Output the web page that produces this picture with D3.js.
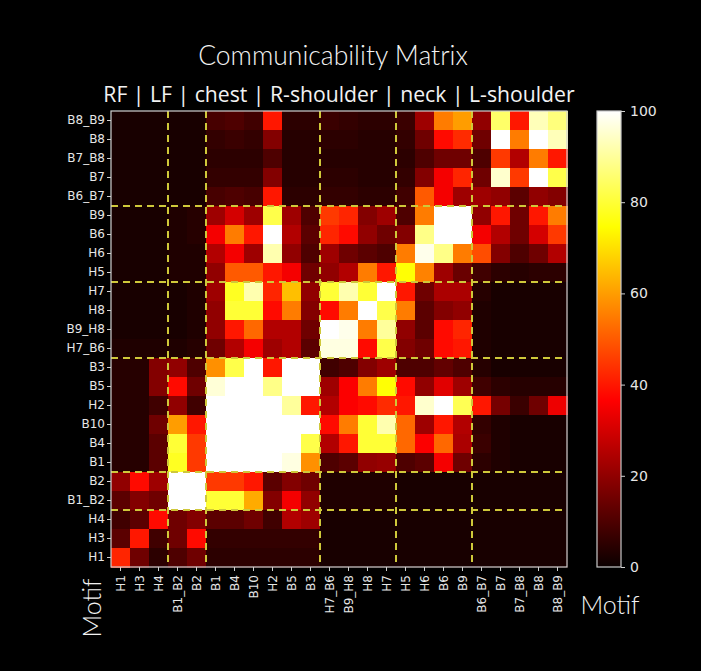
<!DOCTYPE html>
<html>
<head>
<meta charset="utf-8">
<script src="https://cdn.jsdelivr.net/npm/d3@7"></script>
<style>
  html, body { margin: 0; padding: 0; background: #000; }
  svg { display: block; }
</style>
</head>
<body>
<svg id="chart" width="701" height="671"></svg>
<script>
// ---------------- DATA ----------------
const title = "Communicability Matrix";
const subtitle = "RF | LF | chest | R-shoulder | neck | L-shoulder";
const xLabels = ["H1","H3","H4","B1_B2","B2","B1","B4","B10","H2","B5","B3","H7_B6","B9_H8","H8","H7","H5","H6","B6","B9","B6_B7","B7","B7_B8","B8","B8_B9"];
const yLabels = ["B8_B9","B8","B7_B8","B7","B6_B7","B9","B6","H6","H5","H7","H8","B9_H8","H7_B6","B3","B5","H2","B10","B4","B1","B2","B1_B2","H4","H3","H1"];
const groupNames = ["RF","LF","chest","R-shoulder","neck","L-shoulder"];
const groupSizes = [3, 2, 6, 4, 4, 5];
const colorTicks = [0, 20, 40, 60, 80, 100];
// matrix rows follow yLabels (top to bottom), columns follow xLabels (left to right)
const values = [
  [2,2,2,2,2, 9,10,8,40,5,5, 7,6,5,5, 7,22,55,60, 20,85,40,93,87],
  [2,2,2,2,2, 6,7,6,18,4,4, 5,5,4,4, 6,15,38,43, 15,100,55,100,93],
  [2,2,2,2,2, 5,5,5,10,4,4, 4,4,4,4, 5,10,15,15, 10,45,25,55,40],
  [2,2,2,2,2, 6,6,6,18,4,4, 5,5,4,4, 6,18,35,42, 15,95,45,100,82],
  [2,2,2,2,2, 9,10,9,40,5,5, 6,6,5,5, 8,50,35,22, 22,20,12,20,18],
  [2,2,2,3,4, 22,30,22,82,22,10, 45,42,18,22, 10,55,100,100, 20,40,15,40,55],
  [2,2,2,3,4, 35,55,40,100,25,12, 42,38,20,15, 18,88,100,100, 35,25,15,30,45],
  [2,2,2,3,3, 25,35,22,92,20,10, 22,15,12,10, 55,98,88,55, 48,18,10,15,25],
  [2,2,2,3,3, 20,50,50,40,35,15, 20,25,55,40, 75,56,22,14, 8,5,4,5,5],
  [2,2,2,2,3, 22,78,92,42,65,20, 80,92,80,100, 40,15,24,24, 4,2,2,2,2],
  [2,2,2,2,3, 20,80,80,38,55,18, 38,55,100,82, 55,12,18,20, 3,2,2,2,2],
  [2,2,2,2,3, 20,40,52,25,25,15, 100,98,55,90, 20,12,38,42, 3,2,2,2,2],
  [3,3,3,3,4, 15,25,35,22,25,12, 97,97,38,82, 18,15,38,40, 3,2,2,2,2],
  [4,4,18,20,10, 58,82,100,40,100,100, 8,10,18,22, 10,10,13,10, 4,2,2,2,2],
  [4,4,18,38,15, 96,100,100,88,100,100, 22,36,55,75, 38,20,32,22, 8,5,4,4,4],
  [4,4,8,20,8, 100,100,100,100,90,40, 25,36,38,43, 40,95,100,83, 40,16,7,15,34],
  [4,4,15,60,40, 100,100,100,100,100,100, 38,55,80,92, 52,22,40,25, 6,3,2,2,2],
  [4,4,12,80,45, 100,100,100,100,100,82, 25,40,80,80, 52,36,52,24, 7,3,2,2,2],
  [4,4,12,78,45, 100,100,100,100,97,58, 10,12,20,21, 10,12,35,15, 5,3,2,2,2],
  [20,38,22,100,100, 45,45,40,12,18,15, 3,3,3,3, 2,2,2,2, 2,2,2,2,2],
  [12,18,15,100,100, 80,80,62,18,35,20, 3,3,3,3, 2,2,2,2, 2,2,2,2,2],
  [8,12,38,15,18, 12,12,15,8,25,22, 2,2,2,2, 2,2,2,2, 2,2,2,2,2],
  [12,40,8,15,38, 6,6,6,6,6,6, 2,2,2,2, 2,2,2,2, 2,2,2,2,2],
  [42,15,5,10,15, 5,5,5,5,5,5, 2,2,2,2, 2,2,2,2, 2,2,2,2,2]
];

// ---------------- LAYOUT ----------------
const svg = d3.select("#chart");
const W = 701, H = 671;
svg.append("rect").attr("width", W).attr("height", H).attr("fill", "#000");

const mLeft = 111, mTop = 111, mSize = 456;
const x = d3.scaleBand().domain(xLabels).range([mLeft, mLeft + mSize]).padding(0);
const y = d3.scaleBand().domain(yLabels).range([mTop, mTop + mSize]).padding(0);

// matplotlib "hot" colormap
const color = d3.scaleLinear()
  .domain([0, 36.5079, 74.6032, 100])
  .range(["#0b0000", "#ff0000", "#ffff00", "#ffffff"])
  .interpolate(d3.interpolateRgb)
  .clamp(true);

const cells = [];
yLabels.forEach((ry, i) => xLabels.forEach((cx, j) => cells.push({ry, cx, v: values[i][j]})));

svg.append("g").selectAll("rect").data(cells).join("rect")
  .attr("x", d => x(d.cx))
  .attr("y", d => y(d.ry))
  .attr("width", x.bandwidth() + 0.5)
  .attr("height", y.bandwidth() + 0.5)
  .attr("fill", d => color(d.v))
  .attr("shape-rendering", "crispEdges");

// group separators (dashed yellow)
const cum = d3.cumsum(groupSizes).slice(0, -1);
const dashColor = "#cfc83a";
const gDash = svg.append("g");
cum.forEach(k => {
  const xp = x(xLabels[k]);
  gDash.append("line").attr("x1", xp).attr("x2", xp).attr("y1", mTop).attr("y2", mTop + mSize)
    .attr("stroke", dashColor).attr("stroke-width", 2).attr("stroke-dasharray", "7,5");
  const yp = y(yLabels[yLabels.length - k]);
  gDash.append("line").attr("x1", mLeft).attr("x2", mLeft + mSize).attr("y1", yp).attr("y2", yp)
    .attr("stroke", dashColor).attr("stroke-width", 2).attr("stroke-dasharray", "7,5");
});

// frame
svg.append("rect").attr("x", mLeft).attr("y", mTop).attr("width", mSize).attr("height", mSize)
  .attr("fill", "none").attr("stroke", "#d0d0d0").attr("stroke-width", 1.2);

const tickFont = "DejaVu Sans, Verdana, sans-serif";
const textCol = "#e6e6e6";

// axes
const yAxis = d3.axisLeft(y).tickSize(4).tickPadding(2);
const gy = svg.append("g").attr("transform", `translate(${mLeft},0)`).call(yAxis);
const xAxis = d3.axisBottom(x).tickSize(4).tickPadding(2);
const gx = svg.append("g").attr("transform", `translate(0,${mTop + mSize})`).call(xAxis);
[gy, gx].forEach(g => {
  g.select(".domain").remove();
  g.selectAll(".tick line").attr("stroke", "#d0d0d0");
  g.selectAll(".tick text").attr("fill", textCol).style("font-family", tickFont).style("font-size", "12px");
});
gx.selectAll(".tick text")
  .attr("transform", "rotate(-90)")
  .attr("text-anchor", "end")
  .attr("x", -8).attr("y", 0).attr("dy", "0.35em");

// titles
svg.append("text").attr("x", 333).attr("y", 65).attr("text-anchor", "middle")
  .attr("fill", "#f2f2f2").style("font-family", "Lato, 'Liberation Sans', sans-serif")
  .style("font-weight", 300).style("font-size", "26.5px").text(title);
svg.append("text").attr("x", 339).attr("y", 102).attr("text-anchor", "middle")
  .attr("fill", "#f2f2f2").style("font-family", "'Open Sans', 'Liberation Sans', sans-serif")
  .style("font-size", "21.2px").text(subtitle);

// axis titles
svg.append("text").attr("transform", "translate(101,608) rotate(-90)").attr("text-anchor", "middle")
  .attr("fill", "#f2f2f2").style("font-family", "Lato, 'Liberation Sans', sans-serif")
  .style("font-weight", 300).style("font-size", "25px").text("Motif");
svg.append("text").attr("x", 610).attr("y", 614).attr("text-anchor", "middle")
  .attr("fill", "#f2f2f2").style("font-family", "Lato, 'Liberation Sans', sans-serif")
  .style("font-weight", 300).style("font-size", "25px").text("Motif");

// colorbar
const cbX = 597, cbW = 24;
const cbScale = d3.scaleLinear().domain([0, 100]).range([mTop + mSize, mTop]);
const defs = svg.append("defs");
const grad = defs.append("linearGradient").attr("id", "hotgrad")
  .attr("x1", 0).attr("y1", 1).attr("x2", 0).attr("y2", 0);
color.domain().forEach(v => grad.append("stop").attr("offset", v / 100).attr("stop-color", color(v)));
svg.append("rect").attr("x", cbX).attr("y", mTop).attr("width", cbW).attr("height", mSize)
  .attr("fill", "url(#hotgrad)").attr("stroke", "#c8c8c8").attr("stroke-width", 1.2);
const gc = svg.append("g").attr("transform", `translate(${cbX + cbW},0)`)
  .call(d3.axisRight(cbScale).tickValues(colorTicks).tickSize(4).tickPadding(5));
gc.select(".domain").remove();
gc.selectAll(".tick line").attr("stroke", "#d0d0d0");
gc.selectAll(".tick text").attr("fill", textCol).style("font-family", tickFont).style("font-size", "14px");
</script>
</body>
</html>
